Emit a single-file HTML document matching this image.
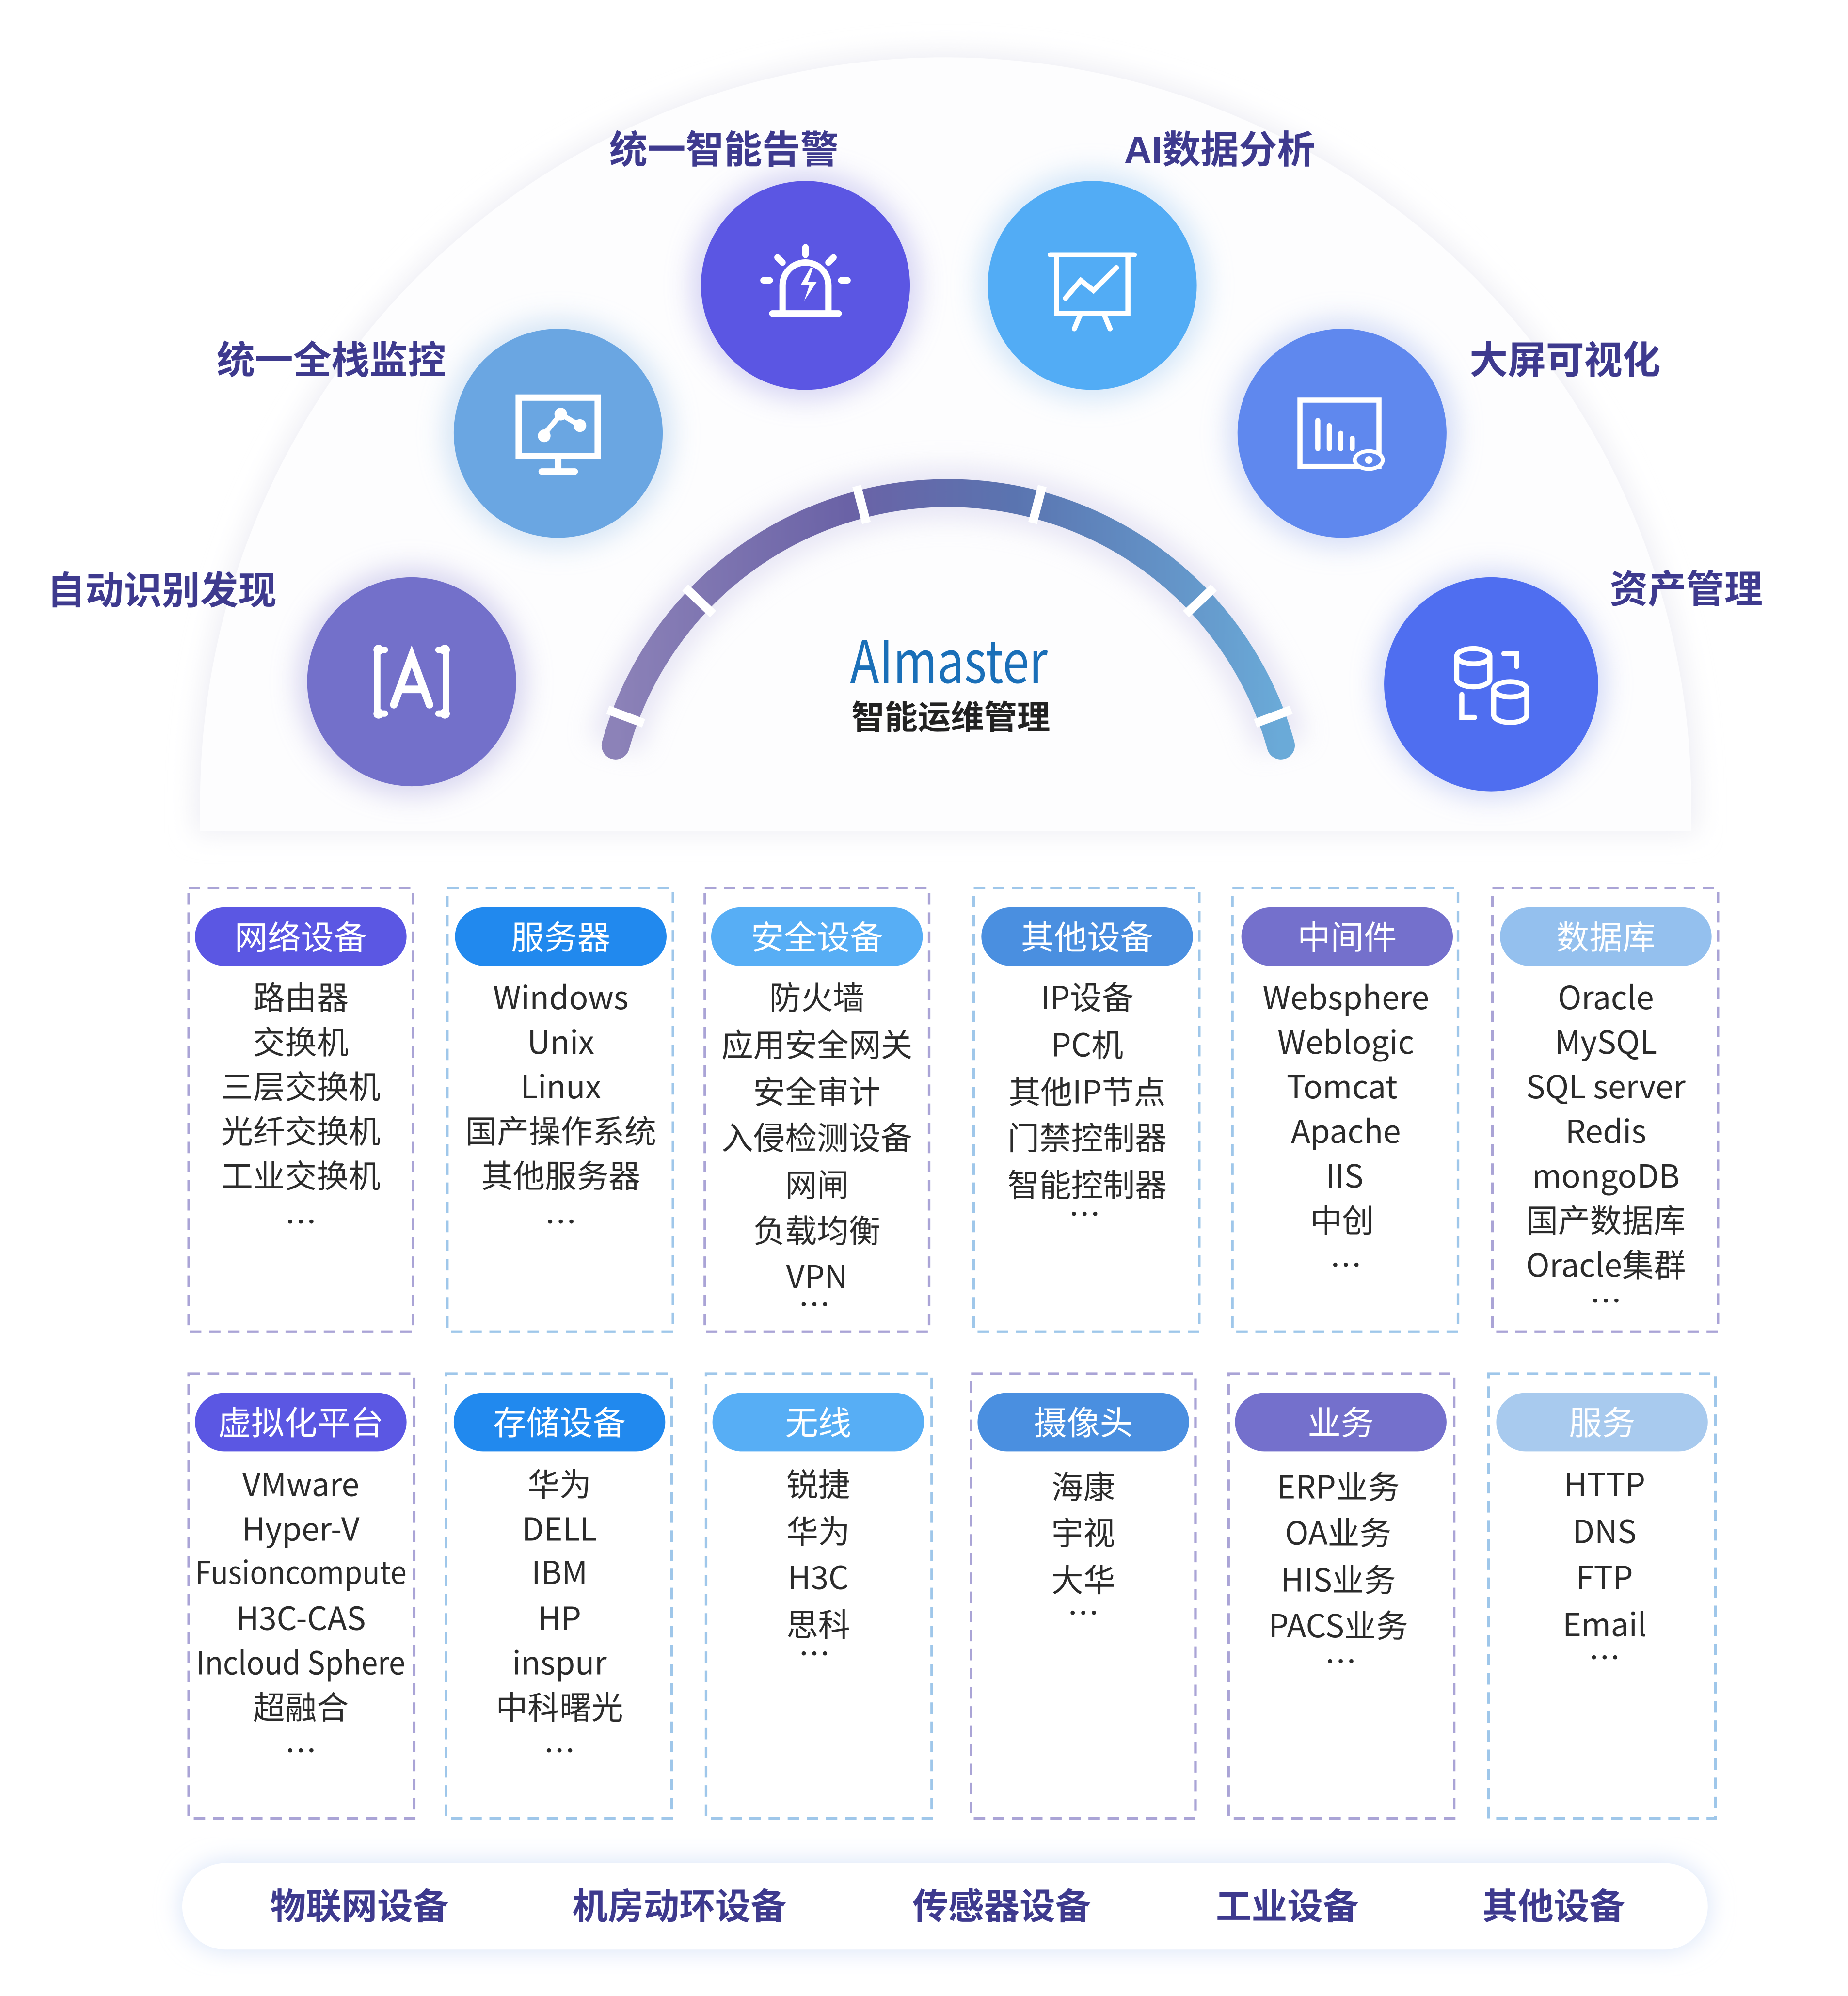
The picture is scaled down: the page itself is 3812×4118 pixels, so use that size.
<!DOCTYPE html>
<html><head><meta charset="utf-8"><style>
html,body{margin:0;padding:0;background:#fff;}
svg{display:block;}
text{font-family:"Liberation Sans","Noto Sans CJK SC",sans-serif;}
.lab{font-size:30px;font-weight:bold;fill:#3e3a8e;}
.pill{font-size:26px;fill:#fff;text-anchor:middle;font-family:"Noto Sans CJK SC","Liberation Sans",sans-serif;}
.it{font-size:25px;fill:#2b2b2b;text-anchor:middle;font-family:"Noto Sans CJK SC","Liberation Sans",sans-serif;}
.bt{font-size:28px;font-weight:bold;fill:#3e3a8e;text-anchor:middle;}
</style></head><body>
<svg width="3812" height="4118" viewBox="0 0 1450 1566.4" xmlns="http://www.w3.org/2000/svg">
<defs>
<filter id="cs" x="-30%" y="-30%" width="160%" height="160%"><feGaussianBlur in="SourceGraphic" stdDeviation="10"/></filter>
<linearGradient id="ag" x1="0" x2="1" y1="0" y2="0"><stop offset="0" stop-color="#8c82b8"/><stop offset="0.35" stop-color="#6a62a6"/><stop offset="0.6" stop-color="#5a74b0"/><stop offset="1" stop-color="#6aaad8"/></linearGradient>
</defs>
<path d="M153,654 L153,630 A589,589 0 0 1 1331,630 L1331,654 Z" fill="#eeeef4" filter="url(#cs)"/>
<path d="M157,652 L157,630 A585,585 0 0 1 1327,630 L1327,652 Z" fill="#fdfdfe"/>
<path d="M483,585 A271,271 0 0 1 1005,585" fill="none" stroke="#d8d6ee" stroke-width="40" filter="url(#cs)" opacity="0.6"/>
<path d="M483,585 A271,271 0 0 1 1005,585" fill="none" stroke="url(#ag)" stroke-width="22" stroke-linecap="round"/>
<g stroke="#fff" stroke-width="7">
<line x1="559.4" y1="481.9" x2="537.6" y2="461.2"/>
<line x1="679.8" y1="410.4" x2="672.2" y2="381.4"/>
<line x1="810.2" y1="410.4" x2="817.8" y2="381.4"/>
<line x1="930.6" y1="481.9" x2="952.4" y2="461.2"/>
<line x1="505" y1="567.6" x2="476.9" y2="557"/>
<line x1="985" y1="567.6" x2="1013.1" y2="557"/>
</g>
<text x="667" y="536" font-size="46" fill="#1a6fb8" textLength="155" lengthAdjust="spacingAndGlyphs" style="font-family:'Noto Sans CJK SC','Liberation Sans',sans-serif">AImaster</text>
<text x="746" y="572" font-size="26" fill="#222" text-anchor="middle" font-weight="bold">智能运维管理</text>
<g>
<circle cx="323" cy="535" r="90" fill="#c9c6ea" filter="url(#cs)" opacity="0.7"/><circle cx="323" cy="535" r="82" fill="#7370ca"/>
<circle cx="438" cy="340" r="90" fill="#c6dcf2" filter="url(#cs)" opacity="0.7"/><circle cx="438" cy="340" r="82" fill="#6aa6e2"/>
<circle cx="632" cy="224" r="90" fill="#c8c6f0" filter="url(#cs)" opacity="0.7"/><circle cx="632" cy="224" r="82" fill="#5b56e3"/>
<circle cx="857" cy="224" r="90" fill="#c4def6" filter="url(#cs)" opacity="0.7"/><circle cx="857" cy="224" r="82" fill="#52acf5"/>
<circle cx="1053" cy="340" r="90" fill="#c6d2f4" filter="url(#cs)" opacity="0.7"/><circle cx="1053" cy="340" r="82" fill="#5f88ee"/>
<circle cx="1170" cy="537" r="90" fill="#c2ccf4" filter="url(#cs)" opacity="0.7"/><circle cx="1170" cy="537" r="84" fill="#4f6ef0"/>
</g>
<g fill="none" stroke="#fff" stroke-width="5" stroke-linecap="round">
<path d="M302,510 h-6 v50 h6 M344,510 h6 v50 h-6"/>
<path d="M309,553 L323,515 L337,553 M314,541 h18" stroke-width="6"/>
<rect x="407" y="312" width="62" height="46" stroke-width="5"/>
<path d="M438,358 v10 M425,370 h26"/>
<path d="M426,342 L440,325 L455,334" stroke-width="4"/>
<path d="M614,244 v-20 a18,18 0 0 1 36,0 v20 M606,246 h52" stroke-width="5"/>
<path d="M632,200 v-6 M614,206 l-4,-4 M650,206 l4,-4 M604,220 h-5 M660,220 h5"/>
<path d="M824,200 h66 M829,200 v46 h56 v-46 M848,246 l-5,12 M866,246 l5,12 M836,234 l12,-14 l10,8 l18,-18" stroke-width="4"/>
<rect x="1020" y="314" width="62" height="52" stroke-width="4"/>
<path d="M1034,352 v-22 M1043,352 v-18 M1052,352 v-12 M1061,352 v-8" stroke-width="4"/>
<ellipse cx="1156" cy="515" rx="13" ry="6" stroke-width="4"/><path d="M1143,515 v18 a13,6 0 0 0 26,0 v-18" stroke-width="4"/>
<ellipse cx="1185" cy="541" rx="13" ry="6" stroke-width="4"/><path d="M1172,541 v20 a13,6 0 0 0 26,0 v-20" stroke-width="4"/>
<path d="M1180,513 h10 v10 M1147,545 v18 h10" stroke-width="4"/>
</g>
<circle cx="427" cy="342" r="5" fill="#fff"/><circle cx="440" cy="325" r="5" fill="#fff"/><circle cx="455" cy="334" r="5" fill="#fff"/>
<circle cx="297" cy="510" r="4" fill="#fff"/><circle cx="349" cy="510" r="4" fill="#fff"/><circle cx="297" cy="560" r="4" fill="#fff"/><circle cx="349" cy="560" r="4" fill="#fff"/>
<path d="M636,210 l-8,14 h7 l-4,12 l10,-15 h-7 l4,-11z" fill="#fff"/>
<ellipse cx="1074" cy="361" rx="11" ry="7" fill="#5f88ee" stroke="#fff" stroke-width="3"/><circle cx="1074" cy="361" r="3" fill="#fff"/>
<text class="lab" x="37" y="474">自动识别发现</text>
<text class="lab" x="170" y="293">统一全栈监控</text>
<text class="lab" x="478" y="128">统一智能告警</text>
<text class="lab" x="882" y="128">AI数据分析</text>
<text class="lab" x="1153" y="293">大屏可视化</text>
<text class="lab" x="1263" y="473">资产管理</text>
<g fill="none" stroke-width="2" stroke-dasharray="9,6">
<rect x="148" y="697" width="176" height="348" stroke="#aaa4d6"/>
<rect x="351" y="697" width="177" height="348" stroke="#9fc7ea"/>
<rect x="553" y="697" width="176" height="348" stroke="#aaa4d6"/>
<rect x="764" y="697" width="177" height="348" stroke="#9fc7ea"/>
<rect x="967" y="697" width="177" height="348" stroke="#9fc7ea"/>
<rect x="1171" y="697" width="177" height="348" stroke="#aaa4d6"/>
<rect x="148" y="1078" width="177" height="349" stroke="#aaa4d6"/>
<rect x="350" y="1078" width="177" height="349" stroke="#9fc7ea"/>
<rect x="554" y="1078" width="177" height="349" stroke="#9fc7ea"/>
<rect x="762" y="1078" width="176" height="349" stroke="#aaa4d6"/>
<rect x="964" y="1078" width="177" height="349" stroke="#aaa4d6"/>
<rect x="1168" y="1078" width="178" height="349" stroke="#9fc7ea"/>
</g>
<g>
<rect x="153" y="712" width="166" height="46" rx="23" fill="#5b57e3"/>
<rect x="357" y="712" width="166" height="46" rx="23" fill="#2189ee"/>
<rect x="558" y="712" width="166" height="46" rx="23" fill="#57aef5"/>
<rect x="770" y="712" width="166" height="46" rx="23" fill="#4a8fe0"/>
<rect x="974" y="712" width="166" height="46" rx="23" fill="#7470cc"/>
<rect x="1177" y="712" width="166" height="46" rx="23" fill="#94c0ee"/>
<rect x="153" y="1093" width="166" height="46" rx="23" fill="#5b57e3"/>
<rect x="356" y="1093" width="166" height="46" rx="23" fill="#2189ee"/>
<rect x="559" y="1093" width="166" height="46" rx="23" fill="#57aef5"/>
<rect x="767" y="1093" width="166" height="46" rx="23" fill="#4a8fe0"/>
<rect x="969" y="1093" width="166" height="46" rx="23" fill="#7470cc"/>
<rect x="1174" y="1093" width="166" height="46" rx="23" fill="#a8caee"/>
</g>
<g>
<text class="pill" x="236" y="745">网络设备</text>
<text class="pill" x="440" y="745">服务器</text>
<text class="pill" x="641" y="745">安全设备</text>
<text class="pill" x="853" y="745">其他设备</text>
<text class="pill" x="1057" y="745">中间件</text>
<text class="pill" x="1260" y="745">数据库</text>
<text class="pill" x="236" y="1126">虚拟化平台</text>
<text class="pill" x="439" y="1126">存储设备</text>
<text class="pill" x="642" y="1126">无线</text>
<text class="pill" x="850" y="1126">摄像头</text>
<text class="pill" x="1052" y="1126">业务</text>
<text class="pill" x="1257" y="1126">服务</text>
</g>
<g>
<text class="it" x="236" y="792">路由器</text><text class="it" x="236" y="827">交换机</text><text class="it" x="236" y="862">三层交换机</text><text class="it" x="236" y="897">光纤交换机</text><text class="it" x="236" y="932">工业交换机</text><text class="it" x="236" y="968">…</text>
<text class="it" x="440" y="792">Windows</text><text class="it" x="440" y="827">Unix</text><text class="it" x="440" y="862">Linux</text><text class="it" x="440" y="897">国产操作系统</text><text class="it" x="440" y="932">其他服务器</text><text class="it" x="440" y="968">…</text>
<text class="it" x="641" y="792">防火墙</text><text class="it" x="641" y="829">应用安全网关</text><text class="it" x="641" y="866">安全审计</text><text class="it" x="641" y="902">入侵检测设备</text><text class="it" x="641" y="939">网闸</text><text class="it" x="641" y="975">负载均衡</text><text class="it" x="641" y="1011">VPN</text><text class="it" x="639" y="1033">…</text>
<text class="it" x="853" y="792">IP设备</text><text class="it" x="853" y="829">PC机</text><text class="it" x="853" y="866">其他IP节点</text><text class="it" x="853" y="902">门禁控制器</text><text class="it" x="853" y="939">智能控制器</text><text class="it" x="851" y="962">…</text>
<text class="it" x="1056" y="792">Websphere</text><text class="it" x="1056" y="827">Weblogic</text><text class="it" x="1053" y="862">Tomcat</text><text class="it" x="1056" y="897">Apache</text><text class="it" x="1055" y="932">IIS</text><text class="it" x="1053" y="967">中创</text><text class="it" x="1056" y="1002">…</text>
<text class="it" x="1260" y="792">Oracle</text><text class="it" x="1260" y="827">MySQL</text><text class="it" x="1260" y="862">SQL server</text><text class="it" x="1260" y="897">Redis</text><text class="it" x="1260" y="932">mongoDB</text><text class="it" x="1260" y="967">国产数据库</text><text class="it" x="1260" y="1002">Oracle集群</text><text class="it" x="1260" y="1030">…</text>
<text class="it" x="236" y="1174">VMware</text><text class="it" x="236" y="1209">Hyper-V</text><text class="it" x="236" y="1243" textLength="166" lengthAdjust="spacingAndGlyphs">Fusioncompute</text><text class="it" x="236" y="1279">H3C-CAS</text><text class="it" x="236" y="1314" textLength="164" lengthAdjust="spacingAndGlyphs">Incloud Sphere</text><text class="it" x="236" y="1349">超融合</text><text class="it" x="236" y="1383">…</text>
<text class="it" x="439" y="1174">华为</text><text class="it" x="439" y="1209">DELL</text><text class="it" x="439" y="1243">IBM</text><text class="it" x="439" y="1279">HP</text><text class="it" x="439" y="1314">inspur</text><text class="it" x="439" y="1349">中科曙光</text><text class="it" x="439" y="1383">…</text>
<text class="it" x="642" y="1174">锐捷</text><text class="it" x="642" y="1211">华为</text><text class="it" x="642" y="1247">H3C</text><text class="it" x="642" y="1284">思科</text><text class="it" x="639" y="1307">…</text>
<text class="it" x="850" y="1176">海康</text><text class="it" x="850" y="1212">宇视</text><text class="it" x="850" y="1249">大华</text><text class="it" x="850" y="1275">…</text>
<text class="it" x="1050" y="1176">ERP业务</text><text class="it" x="1050" y="1212">OA业务</text><text class="it" x="1050" y="1249">HIS业务</text><text class="it" x="1050" y="1285">PACS业务</text><text class="it" x="1052" y="1313">…</text>
<text class="it" x="1259" y="1174">HTTP</text><text class="it" x="1259" y="1211">DNS</text><text class="it" x="1259" y="1247">FTP</text><text class="it" x="1259" y="1284">Email</text><text class="it" x="1259" y="1310">…</text>
</g>
<rect x="143" y="1462" width="1197" height="68" rx="34" fill="#d6e2f8" filter="url(#cs)"/>
<rect x="143" y="1462" width="1197" height="68" rx="34" fill="#fff"/>
<text class="bt" x="282" y="1506">物联网设备</text>
<text class="bt" x="533" y="1506">机房动环设备</text>
<text class="bt" x="786" y="1506">传感器设备</text>
<text class="bt" x="1010" y="1506">工业设备</text>
<text class="bt" x="1219" y="1506">其他设备</text>
</svg>
</body></html>
